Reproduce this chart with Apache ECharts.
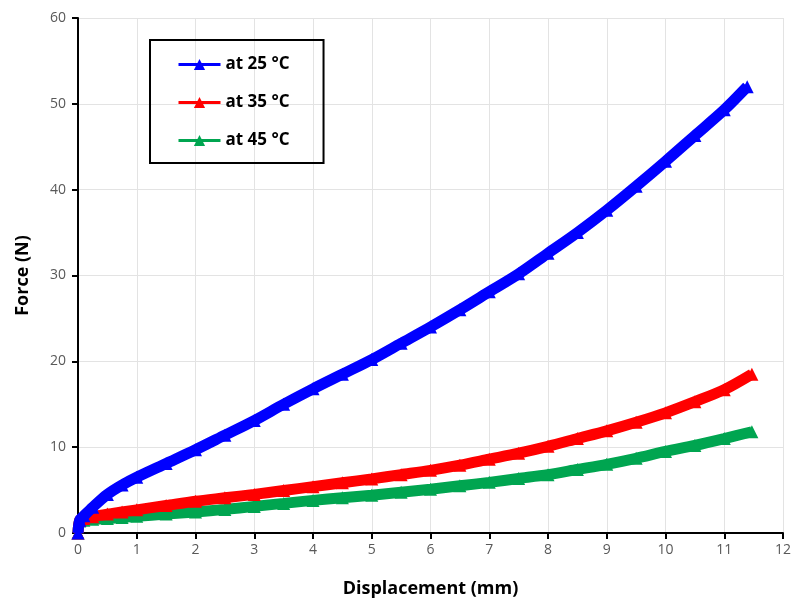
<!DOCTYPE html>
<html>
<head>
<meta charset="utf-8">
<script src="https://cdn.jsdelivr.net/npm/echarts@6/dist/echarts.min.js"></script>
<style>html,body{margin:0;padding:0;background:#fff}#c{width:795px;height:603px}</style>
</head>
<body>
<div id="c"></div>
<script>
const seriesNames = ['at 25 °C', 'at 35 °C', 'at 45 °C'];
const xTickLabels = ['0','1','2','3','4','5','6','7','8','9','10','11','12'];
const yTickLabels = ['0','10','20','30','40','50','60'];
const disp25 = [0, 0.03, 0.1, 0.25, 0.5, 0.75, 1, 1.5, 2, 2.5, 3, 3.5, 4, 4.5, 5, 5.5, 6, 6.5, 7, 7.5, 8, 8.5, 9, 9.5, 10, 10.5, 11, 11.39];
const force25 = [0, 1.5, 2.0, 3.0, 4.5, 5.6, 6.5, 8.1, 9.7, 11.4, 13.1, 15.0, 16.8, 18.5, 20.2, 22.1, 24.0, 26.0, 28.1, 30.2, 32.6, 35.0, 37.6, 40.4, 43.3, 46.3, 49.3, 52.0];
const disp35 = [0, 0.03, 0.1, 0.25, 0.5, 0.75, 1, 1.5, 2, 2.5, 3, 3.5, 4, 4.5, 5, 5.5, 6, 6.5, 7, 7.5, 8, 8.5, 9, 9.5, 10, 10.5, 11, 11.47];
const force35 = [0, 1.5, 1.7, 1.9, 2.2, 2.45, 2.7, 3.2, 3.7, 4.1, 4.5, 4.95, 5.4, 5.85, 6.3, 6.8, 7.3, 7.9, 8.6, 9.3, 10.1, 11.0, 11.9, 12.9, 14.0, 15.3, 16.7, 18.5];
const disp45 = [0, 0.03, 0.1, 0.25, 0.5, 0.75, 1, 1.5, 2, 2.5, 3, 3.5, 4, 4.5, 5, 5.5, 6, 6.5, 7, 7.5, 8, 8.5, 9, 9.5, 10, 10.5, 11, 11.47];
const force45 = [0, 1.4, 1.5, 1.6, 1.7, 1.8, 1.95, 2.2, 2.45, 2.75, 3.1, 3.45, 3.8, 4.1, 4.4, 4.75, 5.1, 5.5, 5.9, 6.35, 6.8, 7.4, 8.0, 8.7, 9.5, 10.2, 11.0, 11.8];
const colors = ['#0000ff', '#ff0000', '#00a550'];

function pairs(xs, ys){ return xs.map((x,i)=>[x, ys[i]]); }
const allData = [pairs(disp25, force25), pairs(disp35, force35), pairs(disp45, force45)];

const chart = echarts.init(document.getElementById('c'));
const FF = 'Open Sans, Liberation Sans, sans-serif';
const labelFont = {fontFamily:FF, fontSize:14, color:'#595959'};
chart.setOption({
  animation:false,
  backgroundColor:'#fff',
  grid:{left:78, right:12, top:18, bottom:69},
  legend:{
    orient:'vertical', left:150, top:40,
    data: seriesNames,
    borderColor:'#000', borderWidth:2,
    padding:[16, 34, 14, 27],
    itemGap:21, itemWidth:42, itemHeight:14,
    lineStyle:{width:3},
    textStyle:{fontFamily:FF, fontWeight:'bold', fontSize:17, color:'#000'}
  },
  xAxis:{
    type:'value', min:0, max:12, interval:1,
    name:'Displacement (mm)', nameLocation:'middle', nameGap:47,
    nameTextStyle:{fontFamily:FF, fontWeight:'bold', fontSize:18, color:'#000'},
    axisLine:{lineStyle:{color:'#000', width:2}},
    axisTick:{show:true, inside:false, length:6, lineStyle:{color:'#000', width:2}},
    axisLabel:Object.assign({margin:10, formatter:(v)=>xTickLabels[Math.round(v)]}, labelFont),
    splitLine:{show:true, lineStyle:{color:'#e3e3e3', width:1}}
  },
  yAxis:{
    type:'value', min:0, max:60, interval:10,
    name:'Force (N)', nameLocation:'middle', nameGap:46, nameRotate:90,
    nameTextStyle:{fontFamily:FF, fontWeight:'bold', fontSize:18, color:'#000'},
    axisLine:{show:true, lineStyle:{color:'#000', width:2}},
    axisTick:{show:true, inside:false, length:6, lineStyle:{color:'#000', width:2}},
    axisLabel:Object.assign({margin:12, formatter:(v)=>yTickLabels[Math.round(v/10)]}, labelFont),
    splitLine:{show:true, lineStyle:{color:'#e3e3e3', width:1}}
  },
  series: seriesNames.map((n,i)=>({
    name:n, type:'line', data:allData[i], smooth:0.3,
    symbol:'triangle', symbolSize:13, showSymbol:true,
    itemStyle:{color:colors[i]},
    lineStyle:{color:colors[i], width:11},
    z: 3 - i,
    label:{show:false}
  }))
});
</script>
</body>
</html>
